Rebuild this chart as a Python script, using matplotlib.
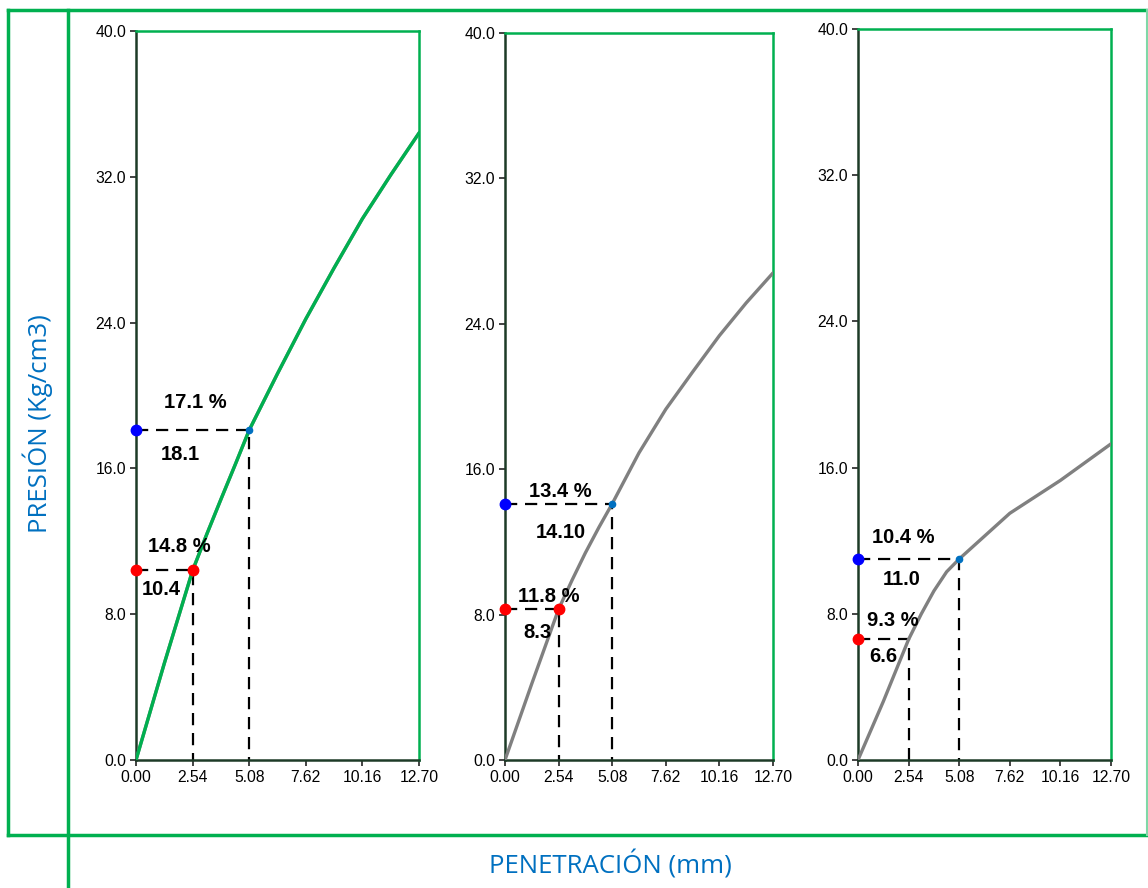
import matplotlib
matplotlib.use("Agg")
import matplotlib.pyplot as plt
from matplotlib.lines import Line2D

plt.rcParams['font.family'] = ['Liberation Sans', 'DejaVu Sans']

# ---------------- data ----------------
penetration = [0.0, 1.27, 2.54, 3.18, 3.81, 4.45, 5.08, 6.35, 7.62, 8.89, 10.16, 11.43, 12.70]
pressure_1 = [0.0, 5.3, 10.4, 12.4, 14.3, 16.2, 18.1, 21.2, 24.2, 27.0, 29.7, 32.1, 34.4]
pressure_2 = [0.0, 4.2, 8.3, 9.9, 11.4, 12.8, 14.1, 16.9, 19.3, 21.35, 23.35, 25.15, 26.8]
pressure_3 = [0.0, 3.2, 6.6, 8.0, 9.25, 10.3, 11.0, 12.25, 13.5, 14.4, 15.3, 16.3, 17.3]

x_ticks = [0.0, 2.54, 5.08, 7.62, 10.16, 12.70]
y_ticks = [0.0, 8.0, 16.0, 24.0, 32.0, 40.0]

x_ref = [2.54, 5.08]
p_at_254 = [10.4, 8.3, 6.6]
p_at_508 = [18.1, 14.1, 11.0]
cbr_254 = ["14.8 %", "11.8 %", "9.3 %"]
cbr_508 = ["17.1 %", "13.4 %", "10.4 %"]
lbl_254 = ["10.4", "8.3", "6.6"]
lbl_508 = ["18.1", "14.10", "11.0"]

# label positions (data coords)
pos_cbr_508 = [(2.65, 19.64), (2.61, 14.8), (2.26, 12.2)]
pos_lbl_508 = [(1.97, 16.74), (2.65, 12.54), (2.21, 9.9)]
pos_cbr_254 = [(1.93, 11.74), (2.09, 8.97), (1.76, 7.66)]
pos_lbl_254 = [(1.12, 9.38), (1.52, 7.04), (1.26, 5.69)]

series = [pressure_1, pressure_2, pressure_3]

GREEN = '#00B050'
BLUE_T = '#0070C0'
GRAY = '#808080'
DARK = '#1d3b27'

W, H = 1148, 888
fig = plt.figure(figsize=(W / 100, H / 100), dpi=100)

boxes = [(136, 419, 31), (505, 773, 33), (858, 1111, 29)]
bottom_px = 760

for i, (l, r, t) in enumerate(boxes):
    ax = fig.add_axes([l / W, 1 - bottom_px / H, (r - l) / W, (bottom_px - t) / H])
    ax.set_xlim(0, 12.70)
    ax.set_ylim(0, 40)
    ax.set_xticks(x_ticks)
    ax.set_yticks(y_ticks)
    ax.set_xticklabels([f"{v:.2f}" for v in x_ticks])
    ax.set_yticklabels([f"{v:.1f}" for v in y_ticks])
    ax.tick_params(direction='out', length=4, width=1.2, color='#222222',
                   labelsize=11.3, pad=3)
    for s in ['top', 'right']:
        ax.spines[s].set_color(GREEN)
        ax.spines[s].set_linewidth(1.8)
    for s in ['left', 'bottom']:
        ax.spines[s].set_color(DARK)
        ax.spines[s].set_linewidth(1.8)

    ys = series[i]
    ax.plot(penetration, ys, color=GRAY, lw=2.4, zorder=3,
            solid_capstyle='round', solid_joinstyle='round')
    if i == 0:
        ax.plot(penetration, ys, color=GREEN, lw=2.4, zorder=4,
                solid_joinstyle='round')

    # dashed guides
    for xr, pr in zip(x_ref, [p_at_254[i], p_at_508[i]]):
        ax.plot([0, xr, xr], [pr, pr, 0], color='black', lw=1.6,
                dashes=(5.5, 3.5), zorder=2, clip_on=False)

    # markers
    ax.plot([0], [p_at_508[i]], 'o', color='#0000FF', ms=7.5, zorder=6, clip_on=False)
    ax.plot([0], [p_at_254[i]], 'o', color='#FF0000', ms=7.5, zorder=6, clip_on=False)
    if i < 2:
        ax.plot([2.54], [p_at_254[i]], 'o', color='#FF0000', ms=7.5, zorder=6)
    ax.plot([5.08], [p_at_508[i]], 'o', color=BLUE_T, ms=4.5, zorder=6)

    # labels
    kw = dict(fontsize=14.5, fontweight='bold', ha='center', va='center', zorder=7)
    ax.text(*pos_cbr_508[i], cbr_508[i], **kw)
    ax.text(*pos_lbl_508[i], lbl_508[i], **kw)
    ax.text(*pos_cbr_254[i], cbr_254[i], **kw)
    ax.text(*pos_lbl_254[i], lbl_254[i], **kw)

# outer frame lines (figure coords)
def fline(x0, y0, x1, y1, lw=2.5, color=GREEN):
    fig.add_artist(Line2D([x0 / W, x1 / W], [1 - y0 / H, 1 - y1 / H],
                          color=color, lw=lw, transform=fig.transFigure))

fline(8, 10, 1148, 10)
fline(8, 10, 8, 835)
fline(8, 835, 1148, 835)
fline(68, 10, 68, 888)
fline(1147, 10, 1147, 835, lw=1.5, color='#7fd8a7')

fig.text(38 / W, 1 - 424 / H, "PRESIÓN (Kg/cm3)", rotation=90, ha='center', va='center',
         color=BLUE_T, fontsize=18.5, family=['Open Sans', 'DejaVu Sans'])
fig.text(610 / W, 1 - 865 / H, "PENETRACIÓN (mm)", ha='center', va='center',
         color=BLUE_T, fontsize=18.5, family=['Open Sans', 'DejaVu Sans'])

fig.savefig("out.png", dpi=100, facecolor='white')
